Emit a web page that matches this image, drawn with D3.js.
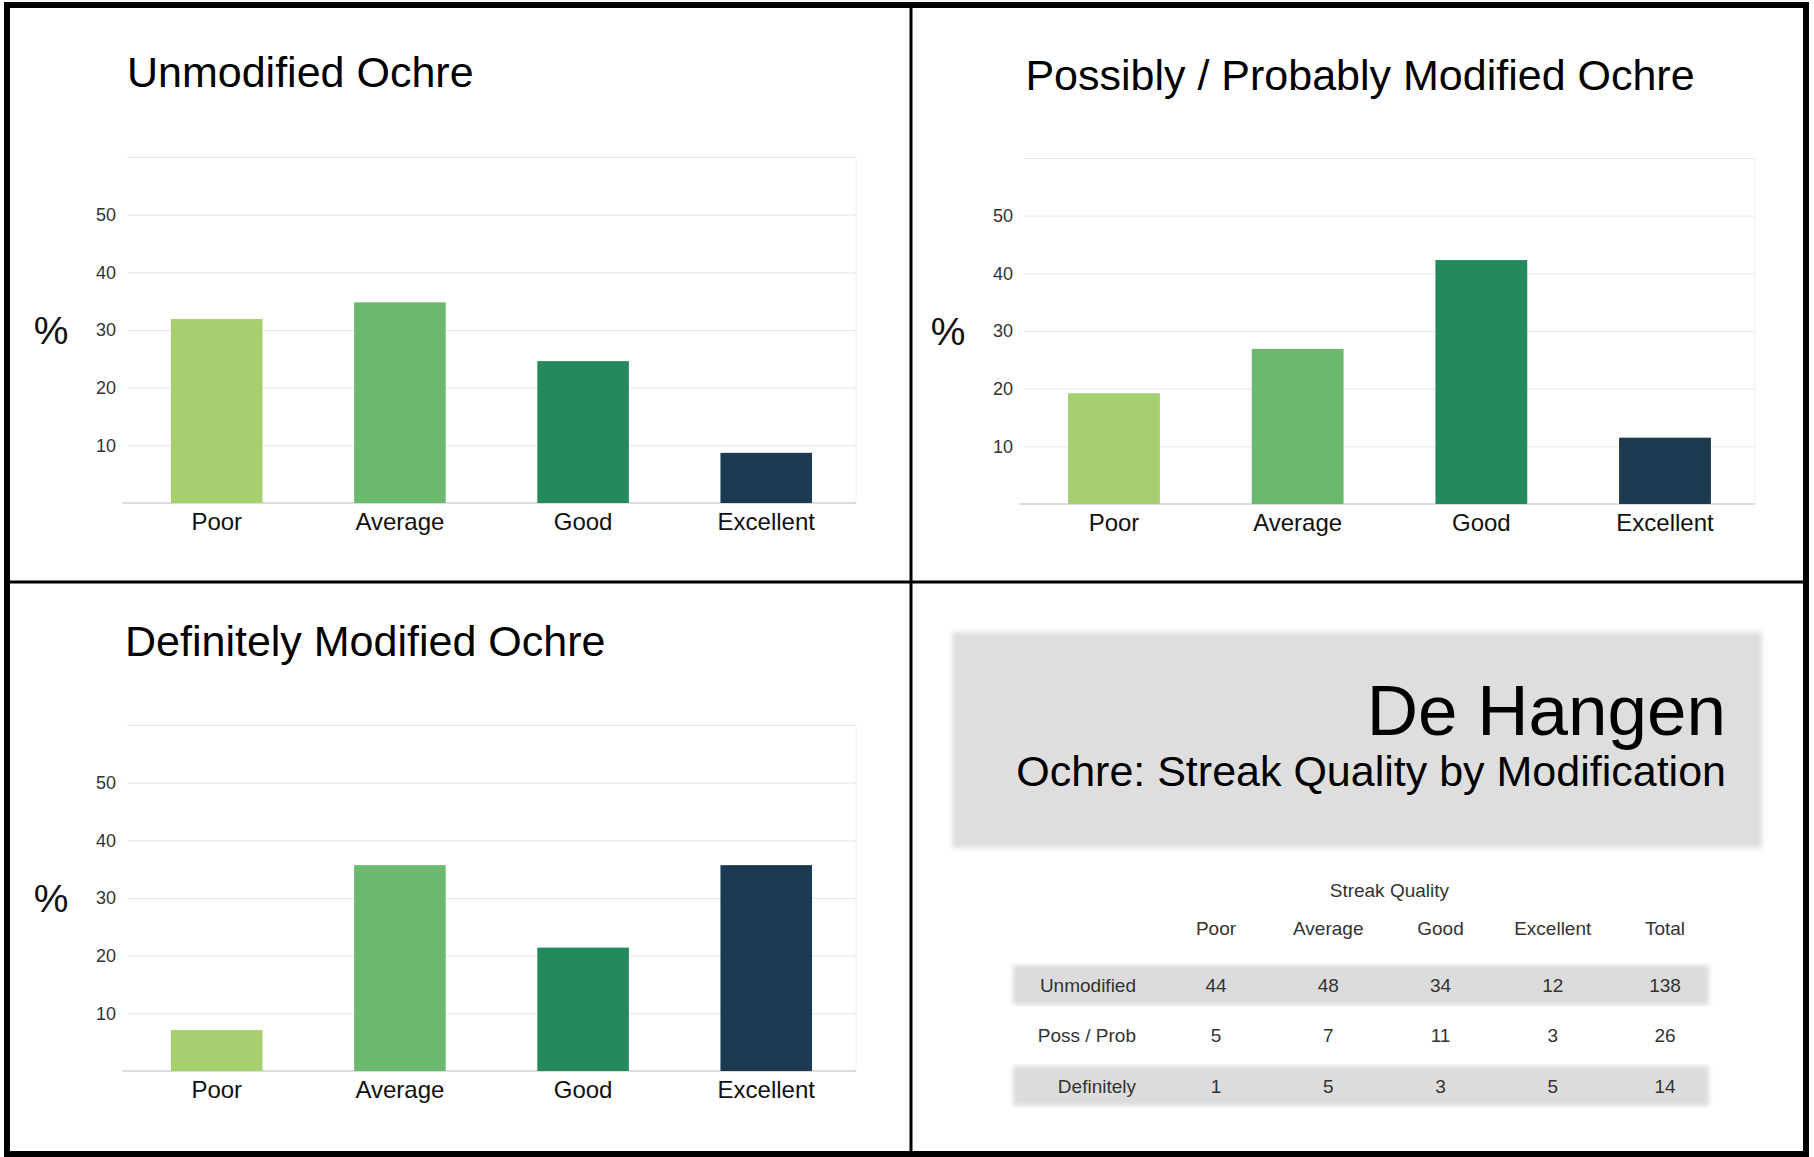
<!DOCTYPE html>
<html lang="en">
<head>
<meta charset="UTF-8">
<title>De Hangen - Ochre Streak Quality</title>
<script src="https://d3js.org/d3.v7.min.js"></script>
<style>
    body{
        margin: 0;
        background: #fff;
        font-family: 'Liberation Sans', Arial, sans-serif;
    }
    .grid line{ stroke: #e6e6e6; }
    .grid path{ display: none; }
    .yaxis path, .xaxis path{ display: none; }
    .yaxis text{ fill: #333; font-size: 18px; }
    .xaxis text{ fill: #111; font-size: 24px; }
</style>
</head>
<body>
<div id="chart"></div>
<script>
    // data
    const categories = ["Poor", "Average", "Good", "Excellent"];
    const unmodifiedPct = [31.9, 34.8, 24.6, 8.7];
    const possProbPct = [19.2, 26.9, 42.3, 11.5];
    const definitelyPct = [7.1, 35.7, 21.4, 35.7];
    const yTicks = [10, 20, 30, 40, 50];
    const gridTicks = [10, 20, 30, 40, 50, 60];

    const tableColumns = ["Poor", "Average", "Good", "Excellent", "Total"];
    const tableRows = ["Unmodified", "Poss / Prob", "Definitely"];
    const unmodifiedCounts = [44, 48, 34, 12, 138];
    const possProbCounts = [5, 7, 11, 3, 26];
    const definitelyCounts = [1, 5, 3, 5, 14];

    const barColors = ["#a6cf70", "#6db86f", "#248a5d", "#1b3a52"];

    const w = 1814;
    const h = 1157;

    const svg = d3.select("#chart")
        .append("svg")
        .attr("width", w)
        .attr("height", h);

    const defs = svg.append("defs");
    defs.append("filter").attr("id", "soft")
        .attr("x", "-5%").attr("y", "-5%").attr("width", "110%").attr("height", "110%")
        .append("feGaussianBlur").attr("stdDeviation", 2.5);

    // panels layout
    const panels = [
        {title: "Unmodified Ochre", values: unmodifiedPct, x0: 127, x1: 856, y0: 503,
         tx: 127, ty: 87, anchor: "start"},
        {title: "Possibly / Probably Modified Ochre", values: possProbPct, x0: 1024, x1: 1755, y0: 504,
         tx: 1360, ty: 90, anchor: "middle"},
        {title: "Definitely Modified Ochre", values: definitelyPct, x0: 127, x1: 856, y0: 1071,
         tx: 125, ty: 656, anchor: "start"}
    ];

    const drawPanel = (p) => {
        const g = svg.append("g");
        const x = d3.scaleBand()
            .domain(categories)
            .range([p.x0, p.x1])
            .paddingInner(0.5)
            .paddingOuter(0.24);
        const y = d3.scaleLinear()
            .domain([0, 60])
            .range([p.y0, p.y0 - 346]);

        // faint plot frame on the right
        g.append("line")
            .attr("x1", p.x1).attr("x2", p.x1)
            .attr("y1", y(60)).attr("y2", y(0))
            .attr("stroke", "#f0f0f0");

        g.append("g")
            .attr("class", "grid")
            .attr("transform", "translate(" + p.x0 + ",0)")
            .call(d3.axisLeft(y).tickValues(gridTicks).tickSize(-(p.x1 - p.x0)).tickFormat(""));

        g.append("g")
            .attr("class", "yaxis")
            .attr("transform", "translate(" + (p.x0 - 1) + ",0)")
            .call(d3.axisLeft(y).tickValues(yTicks).tickSize(0).tickPadding(10));

        g.append("line")
            .attr("x1", p.x0 - 5).attr("x2", p.x1)
            .attr("y1", y(0)).attr("y2", y(0))
            .attr("stroke", "#dcdcdc").attr("stroke-width", 2);

        g.selectAll("rect.bar")
            .data(p.values)
            .enter()
            .append("rect")
            .attr("class", "bar")
            .attr("x", (d, i) => x(categories[i]))
            .attr("y", (d) => y(d))
            .attr("width", x.bandwidth())
            .attr("height", (d) => y(0) - y(d))
            .attr("fill", (d, i) => barColors[i]);

        g.append("g")
            .attr("class", "xaxis")
            .attr("transform", "translate(0," + y(0) + ")")
            .call(d3.axisBottom(x).tickSize(0).tickPadding(10));

        g.append("text")
            .attr("x", p.x0 - 76)
            .attr("y", y(30))
            .attr("dy", "0.35em")
            .attr("text-anchor", "middle")
            .style("font-size", "39px")
            .style("fill", "#111")
            .text("%");

        g.append("text")
            .attr("x", p.tx)
            .attr("y", p.ty)
            .attr("text-anchor", p.anchor)
            .style("font-size", "43px")
            .style("fill", "#000")
            .text(p.title);
    };

    panels.forEach(drawPanel);

    // title box
    svg.append("rect")
        .attr("x", 952).attr("y", 632)
        .attr("width", 810).attr("height", 216)
        .attr("fill", "#dedede")
        .attr("filter", "url(#soft)");

    svg.append("text")
        .attr("x", 1726).attr("y", 735)
        .attr("text-anchor", "end")
        .style("font-size", "71px")
        .style("fill", "#000")
        .text("De Hangen");

    svg.append("text")
        .attr("x", 1726).attr("y", 786)
        .attr("text-anchor", "end")
        .style("font-size", "43px")
        .style("fill", "#000")
        .text("Ochre: Streak Quality by Modification");

    // counts table
    const counts = [unmodifiedCounts, possProbCounts, definitelyCounts];
    const colX = d3.scalePoint().domain(tableColumns).range([1216, 1665]);
    const rowY = d3.scalePoint().domain(tableRows).range([985, 1086]);
    const tableFont = "19px";

    svg.selectAll("rect.band")
        .data(tableRows.filter((r, i) => i % 2 === 0))
        .enter()
        .append("rect")
        .attr("class", "band")
        .attr("x", 1013)
        .attr("y", (d) => rowY(d) - 20)
        .attr("width", 696)
        .attr("height", 40)
        .attr("fill", "#dcdcdc")
        .attr("filter", "url(#soft)");

    svg.append("text")
        .attr("x", (colX("Average") + colX("Good")) / 2 + 5)
        .attr("y", 890)
        .attr("dy", "0.35em")
        .attr("text-anchor", "middle")
        .style("font-size", tableFont)
        .style("fill", "#333")
        .text("Streak Quality");

    svg.selectAll("text.colhead")
        .data(tableColumns)
        .enter()
        .append("text")
        .attr("class", "colhead")
        .attr("x", (d) => colX(d))
        .attr("y", 928)
        .attr("dy", "0.35em")
        .attr("text-anchor", "middle")
        .style("font-size", tableFont)
        .style("fill", "#333")
        .text((d) => d);

    tableRows.forEach((row, r) => {
        svg.append("text")
            .attr("x", 1136)
            .attr("y", rowY(row))
            .attr("dy", "0.35em")
            .attr("text-anchor", "end")
            .style("font-size", tableFont)
            .style("fill", "#333")
            .text(row);

        svg.selectAll("text.cell-" + r)
            .data(counts[r])
            .enter()
            .append("text")
            .attr("class", "cell-" + r)
            .attr("x", (d, i) => colX(tableColumns[i]))
            .attr("y", rowY(row))
            .attr("dy", "0.35em")
            .attr("text-anchor", "middle")
            .style("font-size", tableFont)
            .style("fill", "#333")
            .text((d) => d);
    });

    // frame
    svg.append("rect")
        .attr("x", 7).attr("y", 5)
        .attr("width", 1799).attr("height", 1149)
        .attr("fill", "none")
        .attr("stroke", "#000")
        .attr("stroke-width", 6);
    svg.append("line")
        .attr("x1", 911).attr("x2", 911)
        .attr("y1", 5).attr("y2", 1154)
        .attr("stroke", "#000").attr("stroke-width", 3);
    svg.append("line")
        .attr("x1", 7).attr("x2", 1806)
        .attr("y1", 582).attr("y2", 582)
        .attr("stroke", "#000").attr("stroke-width", 3);
</script>
</body>
</html>
